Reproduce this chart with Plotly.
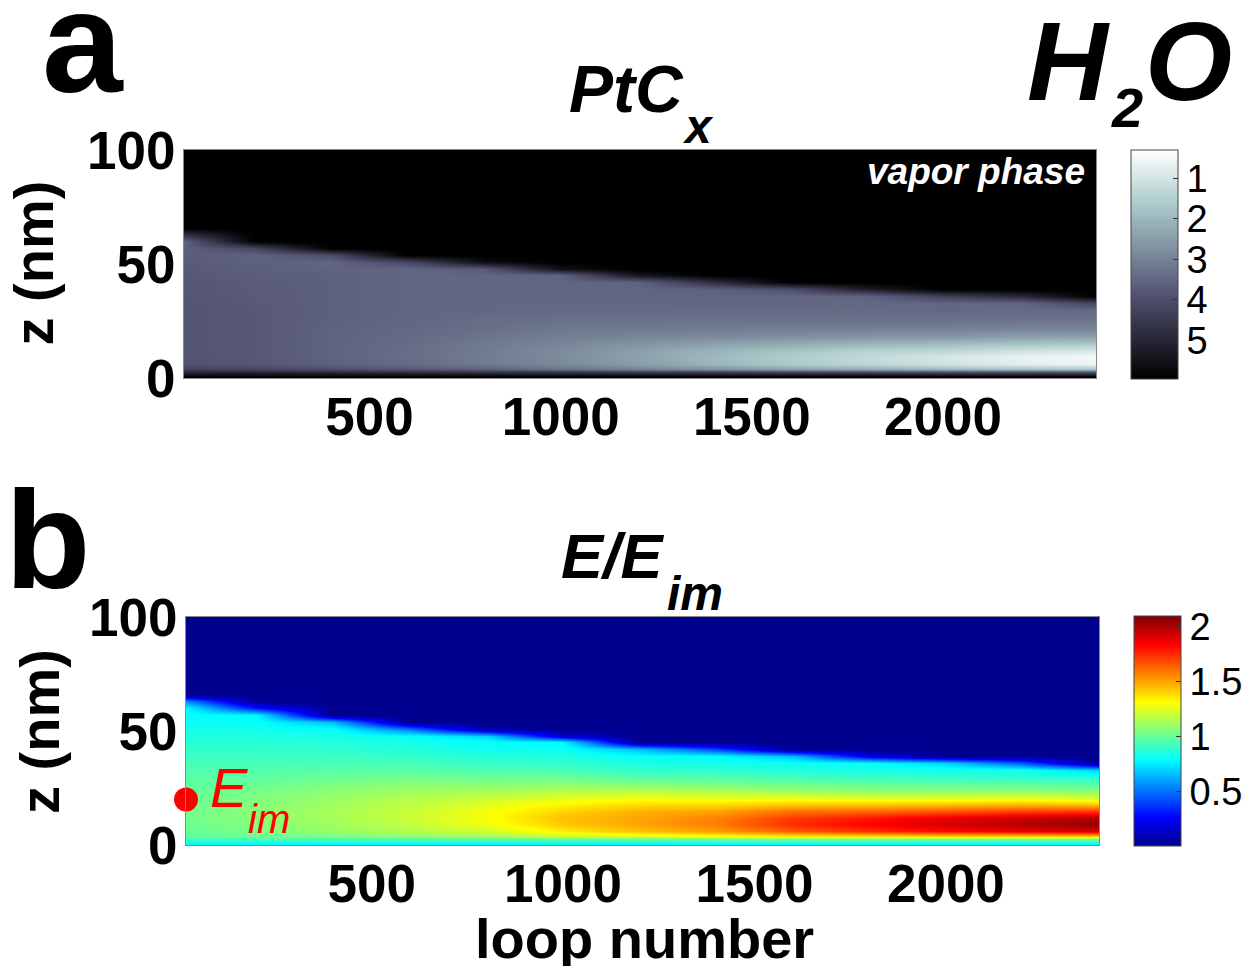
import plotly.graph_objects as go

FONT = "Liberation Sans, Arial, sans-serif"

# ---------------- data ----------------
loop_number = [15, 200, 400, 600, 800, 1000, 1200, 1400, 1600, 1800, 2000, 2200, 2400]
z_nm = [0, 1, 2.5, 4, 6, 9, 12, 15, 18, 21, 24, 27, 30, 33, 36, 39, 42, 45, 48,
        51, 54, 57, 60, 63, 66, 100]

# PtCx stoichiometry x: one depth profile (along z_nm) per loop number
ptcx_profiles = [
    [6.0, 5.8, 5.0, 4.3, 3.9, 3.85, 3.85, 3.85, 3.85, 3.85, 3.85, 3.85, 3.85, 3.85, 3.8, 3.8, 3.8, 3.75, 3.75, 3.7, 3.65, 3.6, 3.6, 4.8, 6.0, 6.0],
    [6.0, 5.8, 5.0, 4.2, 3.8, 3.75, 3.75, 3.75, 3.75, 3.75, 3.75, 3.75, 3.75, 3.72, 3.7, 3.7, 3.68, 3.65, 3.62, 3.6, 3.55, 4.2, 6.0, 6.0, 6.0, 6.0],
    [6.0, 5.8, 4.9, 4.0, 3.6, 3.55, 3.55, 3.55, 3.55, 3.55, 3.58, 3.6, 3.6, 3.6, 3.6, 3.6, 3.6, 3.6, 3.55, 3.5, 4.0, 6.0, 6.0, 6.0, 6.0, 6.0],
    [6.0, 5.8, 4.8, 3.8, 3.4, 3.35, 3.35, 3.38, 3.42, 3.45, 3.48, 3.5, 3.5, 3.5, 3.5, 3.5, 3.5, 3.5, 3.5, 4.1, 6.0, 6.0, 6.0, 6.0, 6.0, 6.0],
    [6.0, 5.8, 4.7, 3.6, 3.15, 3.1, 3.1, 3.15, 3.22, 3.3, 3.35, 3.4, 3.45, 3.5, 3.5, 3.5, 3.5, 3.5, 3.7, 5.6, 6.0, 6.0, 6.0, 6.0, 6.0, 6.0],
    [6.0, 5.8, 4.6, 3.3, 2.85, 2.8, 2.82, 2.9, 3.05, 3.15, 3.25, 3.35, 3.42, 3.45, 3.48, 3.5, 3.5, 3.55, 5.5, 6.0, 6.0, 6.0, 6.0, 6.0, 6.0, 6.0],
    [6.0, 5.8, 4.5, 3.0, 2.5, 2.4, 2.45, 2.65, 2.9, 3.1, 3.25, 3.35, 3.42, 3.45, 3.5, 3.5, 3.55, 5.4, 6.0, 6.0, 6.0, 6.0, 6.0, 6.0, 6.0, 6.0],
    [6.0, 5.8, 4.4, 2.7, 2.05, 1.95, 2.05, 2.4, 2.8, 3.05, 3.2, 3.32, 3.4, 3.45, 3.5, 3.6, 4.8, 6.0, 6.0, 6.0, 6.0, 6.0, 6.0, 6.0, 6.0, 6.0],
    [6.0, 5.8, 4.3, 2.4, 1.65, 1.55, 1.75, 2.2, 2.7, 3.0, 3.2, 3.32, 3.4, 3.45, 3.5, 4.0, 6.0, 6.0, 6.0, 6.0, 6.0, 6.0, 6.0, 6.0, 6.0, 6.0],
    [6.0, 5.8, 4.2, 2.2, 1.35, 1.25, 1.45, 2.0, 2.6, 2.95, 3.2, 3.35, 3.42, 3.48, 3.55, 5.2, 6.0, 6.0, 6.0, 6.0, 6.0, 6.0, 6.0, 6.0, 6.0, 6.0],
    [6.0, 5.8, 4.1, 2.0, 1.05, 0.95, 1.3, 1.9, 2.55, 2.95, 3.2, 3.35, 3.45, 3.5, 4.3, 6.0, 6.0, 6.0, 6.0, 6.0, 6.0, 6.0, 6.0, 6.0, 6.0, 6.0],
    [6.0, 5.8, 4.0, 1.8, 0.75, 0.65, 1.05, 1.7, 2.4, 2.85, 3.15, 3.32, 3.42, 3.5, 4.9, 6.0, 6.0, 6.0, 6.0, 6.0, 6.0, 6.0, 6.0, 6.0, 6.0, 6.0],
    [6.0, 5.8, 4.0, 1.7, 0.6, 0.45, 0.9, 1.6, 2.35, 2.85, 3.15, 3.32, 3.42, 4.2, 6.0, 6.0, 6.0, 6.0, 6.0, 6.0, 6.0, 6.0, 6.0, 6.0, 6.0, 6.0],
]

# E / E_im: one depth profile (along z_nm) per loop number
e_ratio_profiles = [
    [0.72, 0.80, 0.92, 0.98, 1.00, 1.01, 1.02, 1.02, 1.01, 1.00, 0.99, 0.98, 0.97, 0.95, 0.93, 0.91, 0.89, 0.87, 0.85, 0.83, 0.81, 0.80, 0.78, 0.55, 0, 0],
    [0.72, 0.80, 0.93, 1.01, 1.04, 1.06, 1.07, 1.07, 1.06, 1.05, 1.03, 1.00, 0.98, 0.96, 0.93, 0.91, 0.89, 0.87, 0.85, 0.82, 0.80, 0.78, 0.30, 0, 0, 0],
    [0.72, 0.80, 0.95, 1.04, 1.09, 1.12, 1.13, 1.13, 1.12, 1.10, 1.07, 1.04, 1.00, 0.97, 0.94, 0.91, 0.88, 0.86, 0.83, 0.80, 0.65, 0, 0, 0, 0, 0],
    [0.72, 0.80, 0.97, 1.08, 1.15, 1.19, 1.20, 1.20, 1.18, 1.15, 1.11, 1.07, 1.02, 0.97, 0.93, 0.89, 0.86, 0.83, 0.80, 0.50, 0, 0, 0, 0, 0, 0],
    [0.72, 0.80, 0.98, 1.12, 1.22, 1.28, 1.30, 1.29, 1.25, 1.19, 1.12, 1.06, 1.00, 0.95, 0.90, 0.86, 0.82, 0.80, 0.70, 0.05, 0, 0, 0, 0, 0, 0],
    [0.72, 0.80, 1.00, 1.20, 1.35, 1.42, 1.44, 1.40, 1.33, 1.24, 1.15, 1.07, 1.00, 0.94, 0.89, 0.85, 0.81, 0.78, 0.15, 0, 0, 0, 0, 0, 0, 0],
    [0.72, 0.80, 1.00, 1.25, 1.44, 1.50, 1.50, 1.47, 1.38, 1.27, 1.15, 1.05, 0.96, 0.89, 0.84, 0.80, 0.65, 0, 0, 0, 0, 0, 0, 0, 0, 0],
    [0.72, 0.80, 1.02, 1.30, 1.52, 1.58, 1.57, 1.50, 1.38, 1.25, 1.13, 1.03, 0.95, 0.88, 0.83, 0.79, 0.40, 0, 0, 0, 0, 0, 0, 0, 0, 0],
    [0.72, 0.80, 1.03, 1.35, 1.65, 1.75, 1.72, 1.60, 1.42, 1.25, 1.10, 1.00, 0.92, 0.86, 0.81, 0.65, 0, 0, 0, 0, 0, 0, 0, 0, 0, 0],
    [0.72, 0.80, 1.04, 1.38, 1.75, 1.84, 1.80, 1.62, 1.42, 1.22, 1.08, 0.98, 0.90, 0.84, 0.80, 0.20, 0, 0, 0, 0, 0, 0, 0, 0, 0, 0],
    [0.72, 0.80, 1.05, 1.40, 1.82, 1.92, 1.88, 1.66, 1.43, 1.22, 1.07, 0.97, 0.89, 0.83, 0.70, 0, 0, 0, 0, 0, 0, 0, 0, 0, 0, 0],
    [0.72, 0.80, 1.05, 1.40, 1.88, 1.99, 1.94, 1.70, 1.45, 1.23, 1.07, 0.96, 0.88, 0.82, 0.45, 0, 0, 0, 0, 0, 0, 0, 0, 0, 0, 0],
    [0.72, 0.80, 1.05, 1.42, 1.92, 2.06, 2.00, 1.72, 1.42, 1.20, 1.06, 0.95, 0.86, 0.70, 0, 0, 0, 0, 0, 0, 0, 0, 0, 0, 0, 0],
]

x_ticks = [500, 1000, 1500, 2000]
z_ticks = [0, 50, 100]
ptcx_ticks = [1, 2, 3, 4, 5]
e_ticks = [0.5, 1, 1.5, 2]
e_im_loop = [15]
e_im_z = [20]

for p in ptcx_profiles + e_ratio_profiles:
    assert len(p) == len(z_nm)

# rows along z for the heatmaps
ptcx_grid = [list(r) for r in zip(*ptcx_profiles)]
e_grid = [list(r) for r in zip(*e_ratio_profiles)]
# colour bar of panel a runs 1 (top) -> 5 (bottom): show -x
ptcx_shown = [[-v for v in row] for row in ptcx_grid]

bone = [[0.0, "rgb(0,0,0)"], [0.375, "rgb(84,84,116)"],
        [0.75, "rgb(167,199,199)"], [1.0, "rgb(255,255,255)"]]
jet = [[0.0, "rgb(0,0,143)"], [0.125, "rgb(0,0,255)"], [0.375, "rgb(0,255,255)"],
       [0.625, "rgb(255,255,0)"], [0.875, "rgb(255,0,0)"], [1.0, "rgb(128,0,0)"]]

W, H = 1256, 966

def px(x):
    return x / W

def py(y):
    return 1 - y / H

fig = go.Figure()

fig.add_trace(go.Heatmap(
    x=loop_number, y=z_nm, z=ptcx_shown, zsmooth="best",
    colorscale=bone, zmin=-5.95, zmax=-0.3, xaxis="x", yaxis="y",
    hoverinfo="skip",
    colorbar=dict(
        x=px(1131), xanchor="left", xpad=0, y=py(264.5), yanchor="middle", ypad=0,
        len=229 / H, lenmode="fraction", thickness=47, thicknessmode="pixels",
        outlinewidth=1, outlinecolor="#444",
        tickvals=[-t for t in ptcx_ticks], ticktext=[str(t) for t in ptcx_ticks],
        ticks="inside", ticklen=5, tickcolor="#333",
        tickfont=dict(family=FONT, size=38, color="black"),
    ),
))

fig.add_trace(go.Heatmap(
    x=loop_number, y=z_nm, z=e_grid, zsmooth="best",
    colorscale=jet, zmin=0, zmax=2.1, xaxis="x2", yaxis="y2",
    hoverinfo="skip",
    colorbar=dict(
        x=px(1134), xanchor="left", xpad=0, y=py(731), yanchor="middle", ypad=0,
        len=230 / H, lenmode="fraction", thickness=47, thicknessmode="pixels",
        outlinewidth=1, outlinecolor="#444",
        tickvals=e_ticks, ticktext=["0.5", "1", "1.5", "2"],
        ticks="inside", ticklen=5, tickcolor="#333",
        tickfont=dict(family=FONT, size=38, color="black"),
    ),
))

fig.add_trace(go.Scatter(
    x=e_im_loop, y=e_im_z, mode="markers", xaxis="x2", yaxis="y2",
    marker=dict(size=24, color="#ff0000"), cliponaxis=False,
    showlegend=False, hoverinfo="skip",
))

axis_common = dict(
    showgrid=False, zeroline=False, ticks="", showline=True, mirror=True,
    linecolor="#888", linewidth=1,
    tickfont=dict(family=FONT, size=53, color="black", weight="bold"),
)

fig.update_layout(
    width=W, height=H,
    margin=dict(l=0, r=0, t=0, b=0, autoexpand=False),
    paper_bgcolor="white", plot_bgcolor="white", showlegend=False,
    xaxis=dict(domain=[px(184), px(1096)], range=[15, 2400], tickvals=x_ticks,
               anchor="y", ticklabelstandoff=-8, **axis_common),
    yaxis=dict(domain=[py(378), py(150)], range=[0, 100], tickvals=z_ticks,
               anchor="x", ticklabelstandoff=-3, **axis_common),
    xaxis2=dict(domain=[px(186), px(1099)], range=[15, 2400], tickvals=x_ticks,
                anchor="y2", ticklabelstandoff=-8, **axis_common),
    yaxis2=dict(domain=[py(845), py(617)], range=[0, 100], tickvals=z_ticks,
                anchor="x2", ticklabelstandoff=-3, **axis_common),
)

def ann(text, x, y, size, color="black", angle=0, xanchor="center"):
    fig.add_annotation(
        text=text, x=px(x), y=py(y), xref="paper", yref="paper",
        xanchor=xanchor, yanchor="middle", showarrow=False, textangle=angle,
        font=dict(family=FONT, size=size, color=color),
    )

# panel letters
ann("<b>a</b>", 82.5, 92 - 0.3465 * 145, 145)
ann("<b>b</b>", 48, 588 - 0.3465 * 140, 140)
# panel titles with subscripts
ann("<b><i>PtC</i></b>", 626, 112 - 0.3465 * 66, 66)
ann("<b><i>x</i></b>", 697.5, 143 - 0.3465 * 48, 48)
ann("<b><i>E/E</i></b>", 613, 578 - 0.3465 * 63, 63)
ann("<b><i>im</i></b>", 695, 610 - 0.3465 * 48, 48)
# H2O
ann("<b><i>H</i></b>", 1068, 100 - 0.3465 * 112, 112)
ann("<b><i>2</i></b>", 1126.5, 127 - 0.3465 * 56, 56)
ann("<b><i>O</i></b>", 1188.5, 100 - 0.3465 * 112, 112)
# in-plot labels
ann("<b><i>vapor phase</i></b>", 1087, 184 - 0.3465 * 37, 37, color="white", xanchor="right")
ann("<i>E</i>", 229, 807 - 0.3465 * 56, 56, color="#ff0000")
ann("<i>im</i>", 268.5, 833 - 0.3465 * 40, 40, color="#ff0000")
# axis titles
ann("<b>loop number</b>", 644, 958 - 0.3465 * 56, 56)
ann("<b>z (nm)</b>", 33, 263.5, 56, angle=-90)
ann("<b>z (nm)</b>", 39, 732, 56, angle=-90)

fig.write_html(
    "out.html",
    config={"displayModeBar": False},
    post_script="document.body.style.margin='0';document.body.style.overflow='hidden';",
)
